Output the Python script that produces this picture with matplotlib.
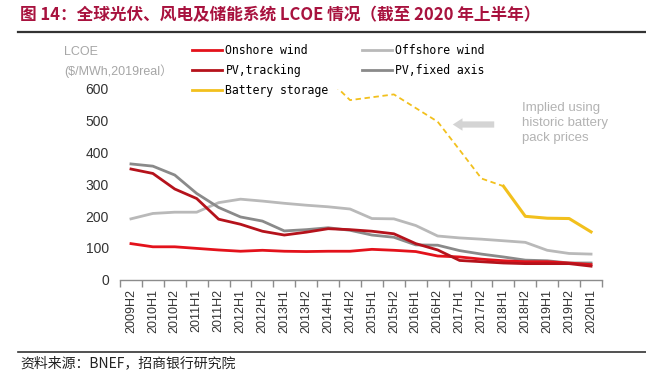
#!/usr/bin/env python3
"""Global LCOE of PV, wind and battery storage, 2009H2-2020H1 (BNEF)."""
import numpy as np
import matplotlib
matplotlib.use("Agg")
import matplotlib.pyplot as plt
from matplotlib.lines import Line2D

plt.rcParams["font.family"] = ["Liberation Sans", "Noto Sans CJK SC", "DejaVu Sans"]

# ── Data ─────────────────────────────────────────────────────────────────────
periods = ["2009H2", "2010H1", "2010H2", "2011H1", "2011H2", "2012H1", "2012H2",
           "2013H1", "2013H2", "2014H1", "2014H2", "2015H1", "2015H2", "2016H1",
           "2016H2", "2017H1", "2017H2", "2018H1", "2018H2", "2019H1", "2019H2",
           "2020H1"]
onshore_wind = [113, 103, 103, 98, 93, 89, 92, 89, 88, 89, 89, 95, 92, 88,
                74, 71, 64, 59, 56, 56, 52, 47]
offshore_wind = [191, 208, 212, 212, 242, 253, 247, 240, 234, 229, 222, 192, 191, 170,
                 137, 131, 127, 122, 117, 92, 82, 80]
pv_tracking = [348, 334, 285, 255, 190, 174, 152, 140, 149, 160, 157, 152, 144, 113,
               93, 60, 56, 52, 50, 50, 50, 42]
pv_fixed = [364, 357, 329, 271, 227, 197, 184, 153, 157, 163, 155, 140, 133, 109,
            108, 91, 80, 71, 61, 59, 52, 52]
# implied from historic pack prices (dashed) up to 2017H2, then observed (solid)
battery_implied = [None] * 9 + [632, 565, 574, 583, 540, 497, 408, 318, 294] + [None] * 4
battery_observed = [None] * 17 + [294, 199, 193, 192, 150]

yticks = [0, 100, 200, 300, 400, 500, 600]

C_ONSHORE = "#e3121b"
C_PV_TRACK = "#b5121b"
C_OFFSHORE = "#b9b9b9"
C_PV_FIXED = "#8a8a8a"
C_BATTERY = "#f2c01d"
C_TITLE = "#a8123e"

W, H = 646, 376
fig = plt.figure(figsize=(W / 100, H / 100), dpi=100)
fig.patch.set_facecolor("white")

# plot area: x from 120 to 602 px, y 0 at 279 px, 600 at 89 px
ax = fig.add_axes([120 / W, (H - 279.5) / H, 482 / W, 190.5 / H])

x = np.arange(len(periods))


def arr(vals):
    return np.array([np.nan if v is None else v for v in vals], dtype=float)


ax.plot(x, arr(offshore_wind), color=C_OFFSHORE, lw=2)
ax.plot(x, arr(pv_fixed), color=C_PV_FIXED, lw=2)
ax.plot(x, arr(onshore_wind), color=C_ONSHORE, lw=2)
ax.plot(x, arr(pv_tracking), color=C_PV_TRACK, lw=2)
ax.plot(x, arr(battery_implied), color=C_BATTERY, lw=1.3, ls=(0, (3, 2)))
ax.plot(x, arr(battery_observed), color=C_BATTERY, lw=2.2)

ax.set_xlim(-0.5, len(periods) - 0.5)
ax.set_ylim(0, 600)

ax.set_xticks(x)
ax.set_xticklabels(periods, rotation=90, fontsize=9, color="#333333")
ax.set_xticks(np.arange(-0.5, len(periods)), minor=True)
ax.tick_params(axis="x", which="major", length=0, pad=7)
ax.tick_params(axis="x", which="minor", length=5, color="#8c8c8c", width=1)
ax.set_yticks(yticks)
ax.set_yticklabels([str(v) for v in yticks], fontsize=10, color="#333333")
ax.tick_params(axis="y", length=0, pad=8)

for side in ("top", "right", "left"):
    ax.spines[side].set_visible(False)
ax.spines["bottom"].set_color("#8c8c8c")
ax.spines["bottom"].set_linewidth(1)

# ── Legend (two columns above the plot) ──────────────────────────────────────
handles = [
    Line2D([], [], color=C_ONSHORE, lw=2),
    Line2D([], [], color=C_PV_TRACK, lw=2),
    Line2D([], [], color=C_BATTERY, lw=2),
    Line2D([], [], color=C_OFFSHORE, lw=2),
    Line2D([], [], color=C_PV_FIXED, lw=2),
]
labels = ["Onshore wind", "PV,tracking", "Battery storage", "Offshore wind", "PV,fixed axis"]
leg = fig.legend(handles, labels, ncol=2, loc="upper left",
                 bbox_to_anchor=(192 / W, 1 - 44 / H), frameon=False,
                 prop={"family": "DejaVu Sans Mono", "size": 8.3},
                 handlelength=2.6, handletextpad=0.3, columnspacing=2.9,
                 labelspacing=0.62, borderaxespad=0, borderpad=0)

# axis unit label
fig.text(64 / W, 1 - 52 / H, "LCOE", fontsize=9, color="#a6a6a6", va="center")
fig.text(64 / W, 1 - 71 / H, "($/MWh,2019real）", fontsize=9, color="#a6a6a6", va="center")

# annotation for the dashed battery segment
ax.text(522 / W, 1 - 102 / H, "Implied using\nhistoric battery\npack prices",
        transform=fig.transFigure, fontsize=9.5, color="#b3b3b3",
        va="top", ha="left", linespacing=1.35)
ax.annotate("", xy=(450 / W, 1 - 124.5 / H), xytext=(497 / W, 1 - 124.5 / H),
            xycoords="figure fraction", textcoords="figure fraction",
            arrowprops=dict(arrowstyle="simple,head_length=0.7,head_width=0.9,tail_width=0.45",
                            color="#d4d4d4", lw=0))

# ── Title, rules and source ──────────────────────────────────────────────────
fig.text(20 / W, 1 - 15 / H, "图 14：全球光伏、风电及储能系统 LCOE 情况（截至 2020 年上半年）",
         fontsize=12, fontweight="bold", color=C_TITLE, va="center",
         family=["Noto Sans CJK SC", "DejaVu Sans"])
fig.add_artist(Line2D([18 / W, 1], [1 - 32 / H, 1 - 32 / H], transform=fig.transFigure,
                      color="#333333", lw=1.6))
fig.add_artist(Line2D([18 / W, 1], [1 - 352 / H, 1 - 352 / H], transform=fig.transFigure,
                      color="#333333", lw=1.2))
fig.text(20 / W, 1 - 363 / H, "资料来源：BNEF，招商银行研究院", fontsize=10, color="#222222",
         va="center", family=["Noto Sans CJK SC", "DejaVu Sans"])

fig.savefig("out.png", dpi=100)
